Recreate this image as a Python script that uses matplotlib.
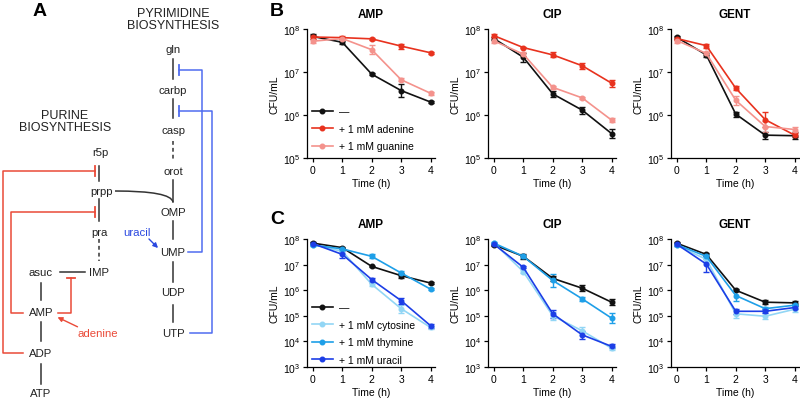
import numpy as np
import matplotlib.pyplot as plt
import matplotlib as mpl
from matplotlib.path import Path
from matplotlib.patches import PathPatch, FancyArrowPatch
from matplotlib.lines import Line2D
from matplotlib.ticker import FixedLocator, NullLocator

mpl.rcParams['font.family'] = ['Liberation Sans', 'DejaVu Sans']
mpl.rcParams['mathtext.fontset'] = 'custom'
mpl.rcParams['mathtext.rm'] = 'Liberation Sans'
mpl.rcParams['mathtext.it'] = 'Liberation Sans:italic'
mpl.rcParams['mathtext.bf'] = 'Liberation Sans:bold'

# 数据：时间点与各组 CFU/mL
time_h = [0, 1, 2, 3, 4]
drugs = ['AMP', 'CIP', 'GENT']

# B: 嘌呤
b_ctrl = [[6.7e7, 4.9e7, 8.9e6, 3.7e6, 2.0e6],
          [6.0e7, 2.2e7, 3.1e6, 1.3e6, 3.7e5],
          [6.4e7, 2.5e7, 1.05e6, 3.4e5, 3.3e5]]
b_adenine = [[6.5e7, 6.3e7, 5.9e7, 4.0e7, 2.8e7],
             [7.0e7, 3.7e7, 2.5e7, 1.4e7, 5.5e6],
             [6.0e7, 4.1e7, 4.2e6, 7.8e5, 3.4e5]]
b_guanine = [[5.2e7, 6.0e7, 3.3e7, 6.6e6, 3.2e6],
             [5.3e7, 2.6e7, 4.4e6, 2.5e6, 7.6e5],
             [5.4e7, 2.7e7, 2.2e6, 5.4e5, 4.6e5]]
# 误差（以 log10 为单位的半宽）
b_ctrl_err = [[0.06, 0.03, 0.02, 0.15, 0.03],
              [0.03, 0.10, 0.07, 0.08, 0.10],
              [0.03, 0.05, 0.06, 0.08, 0.08]]
b_adenine_err = [[0.04, 0.04, 0.02, 0.06, 0.02],
                 [0.03, 0.02, 0.06, 0.07, 0.08],
                 [0.04, 0.05, 0.05, 0.17, 0.04]]
b_guanine_err = [[0.04, 0.04, 0.10, 0.03, 0.04],
                 [0.04, 0.04, 0.03, 0.02, 0.05],
                 [0.05, 0.04, 0.10, 0.12, 0.06]]

# C: 嘧啶
c_ctrl = [[6.9e7, 4.6e7, 8.5e6, 3.7e6, 1.9e6],
          [5.9e7, 2.1e7, 2.9e6, 1.2e6, 3.4e5],
          [6.8e7, 2.5e7, 1.0e6, 3.4e5, 3.2e5]]
c_cytosine = [[6.0e7, 3.3e7, 1.7e6, 1.9e5, 3.5e4],
              [7.0e7, 5.3e6, 1.0e5, 2.6e4, 5.4e3],
              [5.6e7, 1.6e7, 1.2e5, 9.6e4, 1.8e5]]
c_thymine = [[5.8e7, 4.1e7, 2.1e7, 4.7e6, 1.1e6],
             [6.9e7, 2.1e7, 2.4e6, 4.6e5, 8.1e4],
             [6.0e7, 2.1e7, 6.2e5, 1.9e5, 2.6e5]]
c_uracil = [[6.6e7, 2.5e7, 2.6e6, 3.9e5, 4.1e4],
            [6.3e7, 7.8e6, 1.2e5, 1.8e4, 6.4e3],
            [6.2e7, 1.05e7, 1.5e5, 1.5e5, 2.1e5]]
c_ctrl_err = [[0.04, 0.03, 0.03, 0.10, 0.03],
              [0.04, 0.10, 0.10, 0.12, 0.12],
              [0.05, 0.05, 0.04, 0.08, 0.08]]
c_cytosine_err = [[0.05, 0.05, 0.06, 0.15, 0.06],
                  [0.04, 0.05, 0.15, 0.15, 0.06],
                  [0.04, 0.10, 0.15, 0.12, 0.12]]
c_thymine_err = [[0.05, 0.03, 0.08, 0.06, 0.04],
                 [0.04, 0.05, 0.25, 0.08, 0.20],
                 [0.04, 0.10, 0.20, 0.08, 0.05]]
c_uracil_err = [[0.05, 0.15, 0.08, 0.12, 0.08],
                [0.04, 0.04, 0.15, 0.15, 0.08],
                [0.05, 0.30, 0.10, 0.08, 0.06]]

b_labels = ['—', '+ 1 mM adenine', '+ 1 mM guanine']
c_labels = ['—', '+ 1 mM cytosine', '+ 1 mM thymine', '+ 1 mM uracil']
b_colors = ['#111111', '#e8321e', '#f4928c']
c_colors = ['#111111', '#92d6f5', '#1e9fe8', '#1c3ee6']

W, H = 800, 402
fig = plt.figure(figsize=(8, 4.02), dpi=100)


def px_axes(left, top, width, height):
    return fig.add_axes([left / W, 1 - (top + height) / H, width / W, height / H])


def draw_panel(ax, series, errs, colors, labels, title, ymin, legend_y):
    for y, e, c in zip(series, errs, colors):
        y = np.array(y)
        e = np.array(e)
        lo = y - y / 10 ** e
        hi = y * 10 ** e - y
        ax.errorbar(time_h, y, yerr=[lo, hi], color=c, marker='o', ms=3.3,
                    lw=1.2, elinewidth=1.0, capsize=2, capthick=1.0)
    ax.set_yscale('log')
    ax.set_ylim(ymin, 1e8)
    ax.set_xlim(-0.2, 4.15)
    decades = list(range(int(np.log10(ymin)), 9))
    ax.yaxis.set_major_locator(FixedLocator([10.0 ** d for d in decades]))
    ax.yaxis.set_minor_locator(NullLocator())
    ax.set_yticklabels([r'$10^{%d}$' % d for d in decades])
    ax.set_xticks(time_h)
    ax.tick_params(labelsize=7.5, length=3, width=0.9, pad=2)
    for s in ['top', 'right']:
        ax.spines[s].set_visible(False)
    for s in ['left', 'bottom']:
        ax.spines[s].set_linewidth(0.9)
    ax.set_xlabel('Time (h)', fontsize=7.5, labelpad=2)
    ax.set_ylabel('CFU/mL', fontsize=7.5, labelpad=2)
    ax.set_title(title, fontsize=8.5, fontweight='bold', pad=9)
    if legend_y is not None:
        handles = [Line2D([], [], color=c, marker='o', ms=3.3, lw=1.2) for c in colors]
        ax.legend(handles, labels, loc='lower left', bbox_to_anchor=(-0.02, legend_y),
                  frameon=False, fontsize=7.5, handlelength=2.0, handletextpad=0.6,
                  labelspacing=0.72, borderpad=0.2)


b_left = [307, 488, 671]
for i in range(3):
    ax = px_axes(b_left[i], 30, 128, 129)
    draw_panel(ax, [b_ctrl[i], b_adenine[i], b_guanine[i]],
               [b_ctrl_err[i], b_adenine_err[i], b_guanine_err[i]],
               b_colors, b_labels, drugs[i], 1e5, -0.005 if i == 0 else None)
    ax = px_axes(b_left[i], 240, 128, 128)
    draw_panel(ax, [c_ctrl[i], c_cytosine[i], c_thymine[i], c_uracil[i]],
               [c_ctrl_err[i], c_cytosine_err[i], c_thymine_err[i], c_uracil_err[i]],
               c_colors, c_labels, drugs[i], 1e3, -0.04 if i == 0 else None)

# A: 通路示意图（像素坐标）
ax0 = fig.add_axes([0, 0, 1, 1], zorder=-1)
ax0.set_xlim(0, W)
ax0.set_ylim(H, 0)
ax0.axis('off')

red = '#ea4a38'
blue = '#4f6cf0'
dark = '#333333'

pyr_names = ['gln', 'carbp', 'casp', 'orot', 'OMP', 'UMP', 'UDP', 'UTP']
pyr_y = [50, 91, 131, 172, 213, 253, 293, 334]
for n, y in zip(pyr_names, pyr_y):
    ax0.text(173, y, n, fontsize=8.2, ha='center', va='center', color='#222222')

pur_names = ['r5p', 'prpp', 'pra', 'IMP', 'asuc', 'AMP', 'ADP', 'ATP']
pur_xy = [(100, 153), (102, 192), (99, 233), (99, 273), (41, 273), (41, 313), (41, 354), (41, 394)]
for n, (x, y) in zip(pur_names, pur_xy):
    ax0.text(x, y, n, fontsize=8.2, ha='center', va='center', color='#222222')

ax0.text(173, 20, 'PYRIMIDINE\nBIOSYNTHESIS', fontsize=9, ha='center', va='center',
         linespacing=1.1, color='#222222')
ax0.text(65, 122, 'PURINE\nBIOSYNTHESIS', fontsize=9, ha='center', va='center',
         linespacing=1.1, color='#222222')

solid_links = [((173, 60), (173, 80)), ((173, 100), (173, 119)), ((173, 181), (173, 203)),
               ((173, 222), (173, 240)), ((173, 263), (173, 283)), ((173, 306), (173, 323)),
               ((99, 167), (99, 182)), ((99, 200), (99, 222)), ((60, 273), (85, 273)),
               ((41, 284), (41, 301)), ((41, 323), (41, 342)), ((41, 365), (41, 385))]
for (x1, y1), (x2, y2) in solid_links:
    ax0.plot([x1, x2], [y1, y2], color=dark, lw=1.1)
for (x1, y1), (x2, y2) in [((173, 142), (173, 160)), ((99, 240), (99, 262))]:
    ax0.plot([x1, x2], [y1, y2], color=dark, lw=1.1, ls=(0, (2.5, 2)))

# prpp 汇入 orot -> OMP
curve = Path([(115, 192), (171, 192), (173, 203)], [Path.MOVETO, Path.CURVE3, Path.CURVE3])
ax0.add_patch(PathPatch(curve, fill=False, color=dark, lw=1.1))

# 抑制（红）
ax0.plot([23, 3, 3, 95], [354, 354, 172, 172], color=red, lw=1.1)
ax0.plot([95, 95], [167, 177], color=red, lw=1.3)
ax0.plot([23, 11, 11, 95], [314, 314, 213, 213], color=red, lw=1.1)
ax0.plot([95, 95], [208, 218], color=red, lw=1.3)
ax0.plot([58, 71, 71], [314, 314, 279], color=red, lw=1.1)
ax0.plot([67, 75], [279, 279], color=red, lw=1.3)
# 抑制（蓝）
ax0.plot([188, 202, 202, 179], [253, 253, 71, 71], color=blue, lw=1.1)
ax0.plot([179, 179], [66, 76], color=blue, lw=1.3)
ax0.plot([190, 212, 212, 179], [334, 334, 112, 112], color=blue, lw=1.1)
ax0.plot([179, 179], [107, 117], color=blue, lw=1.3)

ax0.text(98, 334, 'adenine', fontsize=8.2, ha='center', va='center', color=red)
ax0.add_patch(FancyArrowPatch((80, 329), (55, 317), arrowstyle='-|>', mutation_scale=7,
                              color=red, lw=1.0))
ax0.text(137, 233, 'uracil', fontsize=8.2, ha='center', va='center', color='#2a48e0')
ax0.add_patch(FancyArrowPatch((147, 238), (160, 251), arrowstyle='-|>', mutation_scale=7,
                              color='#2a48e0', lw=1.0))

for letter, (x, y) in zip(['A', 'B', 'C'], [(40, 11), (277, 11), (277, 220)]):
    ax0.text(x, y, letter, fontsize=14, fontweight='bold', ha='center', va='center')

fig.savefig('out.png', dpi=100)
